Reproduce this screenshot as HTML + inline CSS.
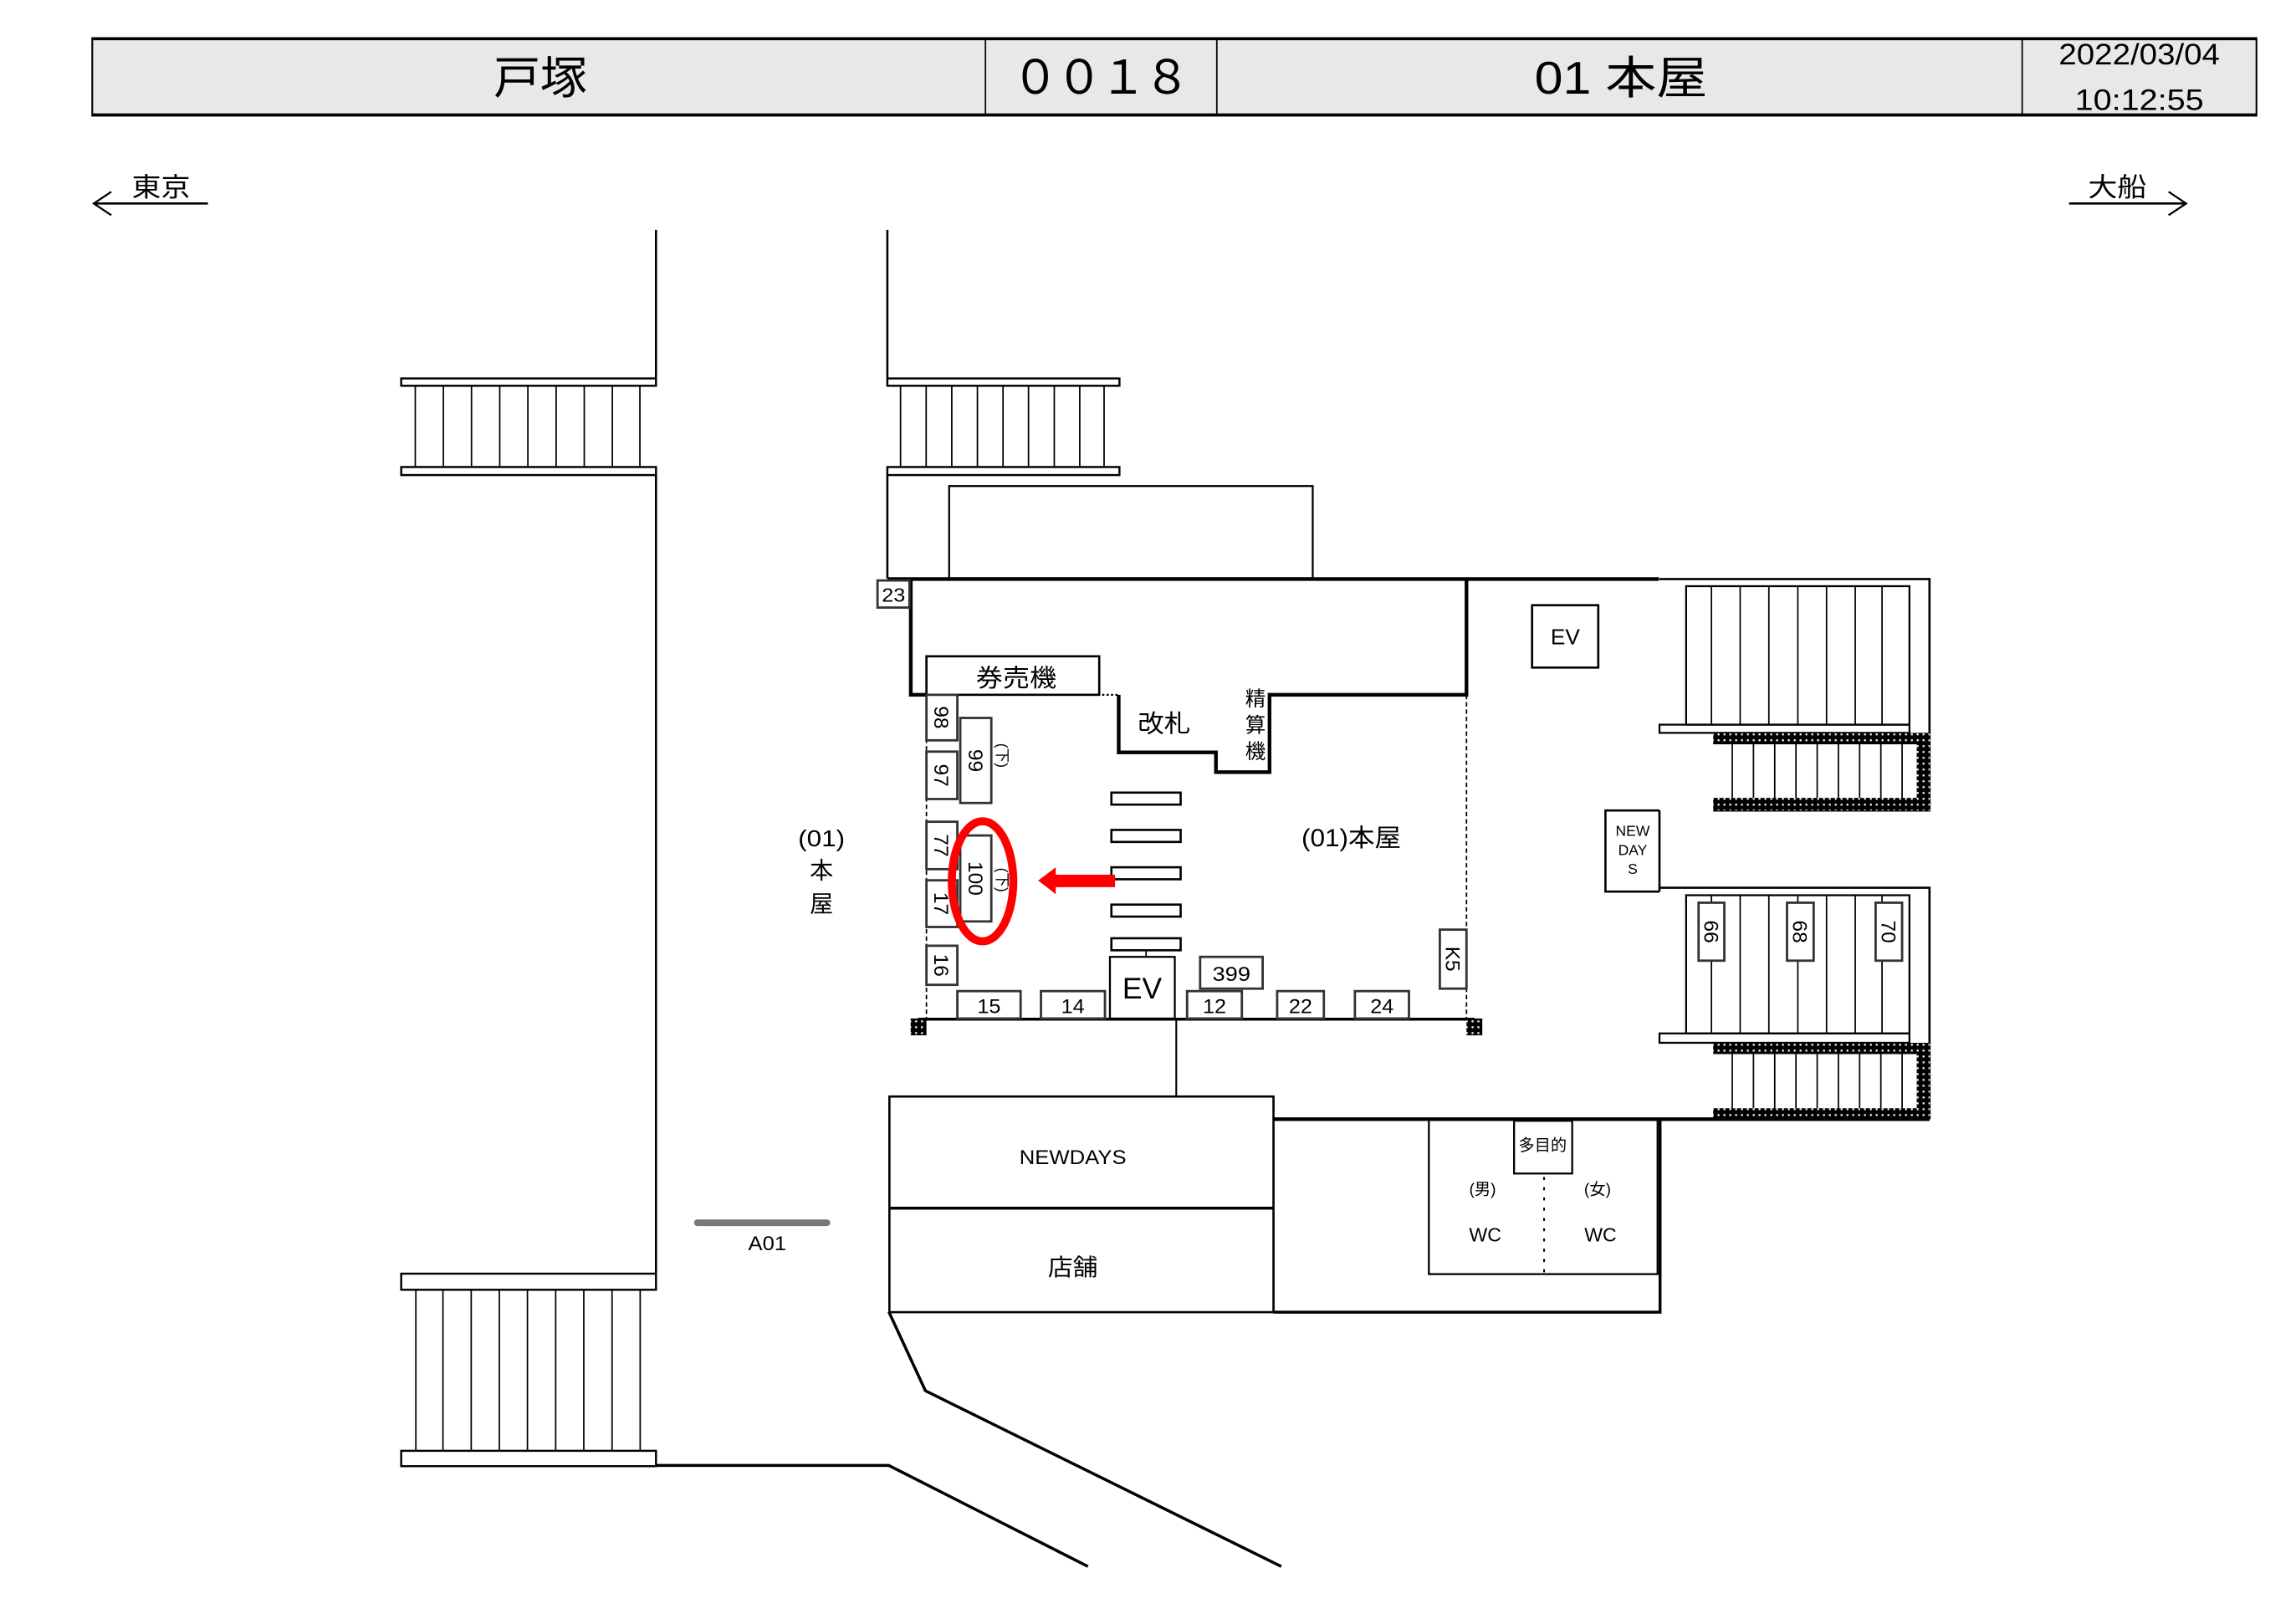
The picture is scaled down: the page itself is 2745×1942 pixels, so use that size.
<!DOCTYPE html>
<html><head><meta charset="utf-8"><style>
html,body{margin:0;padding:0;background:#fff;}
svg{display:block;}
text{font-family:"Liberation Sans","Noto Sans CJK JP",sans-serif;fill:#000;}
</style></head><body>
<svg width="2745" height="1942" viewBox="0 0 1568 1109.3" xmlns="http://www.w3.org/2000/svg">
<defs>
<pattern id="h" width="4" height="4" patternUnits="userSpaceOnUse"><rect width="4" height="4" fill="#000"/><rect x="1" y="1" width="1.3" height="1.3" fill="#fff"/></pattern>
</defs>
<!-- header -->
<rect x="63" y="26" width="1478" height="53" fill="#e8e8e8" stroke="#000" stroke-width="1.2"/>
<line x1="63" y1="26.5" x2="1541" y2="26.5" stroke="#000" stroke-width="2"/>
<line x1="63" y1="78.5" x2="1541" y2="78.5" stroke="#000" stroke-width="2"/>
<line x1="673" y1="26" x2="673" y2="79" stroke="#000" stroke-width="1"/>
<line x1="831" y1="26" x2="831" y2="79" stroke="#000" stroke-width="1"/>
<line x1="1381" y1="26" x2="1381" y2="79" stroke="#000" stroke-width="1"/>
<text x="369" y="64" font-size="31" text-anchor="middle" textLength="64" lengthAdjust="spacingAndGlyphs">戸塚</text>
<text x="752" y="64" font-size="32" text-anchor="middle" textLength="122" lengthAdjust="spacing">００１８</text>
<text x="1107" y="64" font-size="31" text-anchor="middle" textLength="118" lengthAdjust="spacingAndGlyphs">01 本屋</text>
<text x="1461" y="44" font-size="20" text-anchor="middle" textLength="110" lengthAdjust="spacingAndGlyphs">2022/03/04</text>
<text x="1461" y="75" font-size="20" text-anchor="middle" textLength="88" lengthAdjust="spacingAndGlyphs">10:12:55</text>
<!-- direction arrows -->
<text x="110" y="134" font-size="18" text-anchor="middle" textLength="40" lengthAdjust="spacingAndGlyphs">東京</text>
<line x1="64" y1="139" x2="142" y2="139" stroke="#000" stroke-width="1.5"/>
<polyline points="76,131 64,139 76,147" fill="none" stroke="#000" stroke-width="1.3"/>
<text x="1446" y="134" font-size="18" text-anchor="middle" textLength="40" lengthAdjust="spacingAndGlyphs">大船</text>
<line x1="1413" y1="139" x2="1493" y2="139" stroke="#000" stroke-width="1.5"/>
<polyline points="1481,131 1493,139 1481,147" fill="none" stroke="#000" stroke-width="1.3"/>

<g stroke="#000" fill="none" stroke-width="1.5">
<!-- left wall -->
<line x1="448" y1="157" x2="448" y2="258"/>
<line x1="448" y1="324" x2="448" y2="870"/>
<!-- left upper stair -->
<rect x="274" y="258.5" width="174" height="5" stroke-width="1.4"/>
<rect x="274" y="319" width="174" height="5.5" stroke-width="1.4"/>
<g stroke-width="1"><line x1="283.6" y1="263.5" x2="283.6" y2="319"/><line x1="302.8" y1="263.5" x2="302.8" y2="319"/><line x1="322" y1="263.5" x2="322" y2="319"/><line x1="341.3" y1="263.5" x2="341.3" y2="319"/><line x1="360.5" y1="263.5" x2="360.5" y2="319"/><line x1="379.8" y1="263.5" x2="379.8" y2="319"/><line x1="399" y1="263.5" x2="399" y2="319"/><line x1="418.2" y1="263.5" x2="418.2" y2="319"/><line x1="437" y1="263.5" x2="437" y2="319"/></g>
<!-- left lower stair -->
<rect x="274" y="870" width="174" height="11" stroke-width="1.4"/>
<rect x="274" y="991" width="174" height="10.5" stroke-width="1.4"/>
<g stroke-width="1"><line x1="284" y1="881" x2="284" y2="991"/><line x1="302.5" y1="881" x2="302.5" y2="991"/><line x1="321.8" y1="881" x2="321.8" y2="991"/><line x1="341" y1="881" x2="341" y2="991"/><line x1="360.2" y1="881" x2="360.2" y2="991"/><line x1="379.5" y1="881" x2="379.5" y2="991"/><line x1="398.7" y1="881" x2="398.7" y2="991"/><line x1="418" y1="881" x2="418" y2="991"/><line x1="437.2" y1="881" x2="437.2" y2="991"/></g>
<polyline points="448,1001 607,1001 743,1070" stroke-width="2"/>
<polyline points="607,896 632,950 875,1070" stroke-width="2"/>
<!-- right wall upper -->
<line x1="606" y1="157" x2="606" y2="258"/>
<line x1="606" y1="324" x2="606" y2="395"/>
<rect x="606" y="258.5" width="158.5" height="5" stroke-width="1.4"/>
<rect x="606" y="319" width="158.5" height="5.5" stroke-width="1.4"/>
<g stroke-width="1"><line x1="615" y1="263.5" x2="615" y2="319"/><line x1="632.5" y1="263.5" x2="632.5" y2="319"/><line x1="650" y1="263.5" x2="650" y2="319"/><line x1="667.5" y1="263.5" x2="667.5" y2="319"/><line x1="685" y1="263.5" x2="685" y2="319"/><line x1="702.4" y1="263.5" x2="702.4" y2="319"/><line x1="720" y1="263.5" x2="720" y2="319"/><line x1="737.4" y1="263.5" x2="737.4" y2="319"/><line x1="754" y1="263.5" x2="754" y2="319"/></g>
<rect x="648.2" y="332" width="248.3" height="63" stroke-width="1.3"/>
<!-- main top line -->
<line x1="606" y1="395.5" x2="1133" y2="395.5" stroke-width="2.5"/>
<!-- concourse walls -->
<polyline points="622,395 622,474.6 632.7,474.6" stroke-width="2.5"/>
<rect x="632.7" y="448.3" width="118" height="26.3" stroke-width="1.5"/>
<polyline points="764,474.6 764,513.9 830.4,513.9 830.4,527.4 867,527.4 867,474.6 1001.5,474.6 1001.5,395" stroke-width="2.5"/>
<line x1="632.7" y1="474.6" x2="764" y2="474.6" stroke-dasharray="1.5 1.5" stroke-width="1.3"/>
<line x1="632.7" y1="474.6" x2="632.7" y2="695.7" stroke-dasharray="3 2" stroke-width="1"/>
<line x1="1001.5" y1="474.6" x2="1001.5" y2="695.7" stroke-dasharray="3 2" stroke-width="1"/>
<line x1="627" y1="696.2" x2="1007" y2="696.2" stroke-width="2"/>
<line x1="803.3" y1="696" x2="803.3" y2="749" stroke-width="1.2"/>
<!-- stripes -->
<rect x="759" y="541.4" width="47.3" height="8.2" stroke-width="1.5"/>
<rect x="759" y="566.9" width="47.3" height="8.2" stroke-width="1.5"/>
<rect x="759" y="592.4" width="47.3" height="8.2" stroke-width="1.5"/>
<rect x="759" y="617.9" width="47.3" height="8.2" stroke-width="1.5"/>
<rect x="759" y="640.9" width="47.3" height="8.2" stroke-width="1.5"/>
<line x1="782.7" y1="649" x2="782.7" y2="653.6" stroke-width="1"/>
<rect x="758" y="653.6" width="44.3" height="42.1" stroke-width="1.3"/>
</g>
<rect x="621.9" y="695.7" width="10.8" height="11.5" fill="url(#h)"/>
<rect x="1001.5" y="695.7" width="10.8" height="11.5" fill="url(#h)"/>
<!-- small boxes -->
<g stroke="#333" fill="#fff" stroke-width="1.6">
<rect x="599.3" y="396.5" width="21.8" height="18.5"/>
<rect x="632.7" y="474.6" width="21.1" height="31.1"/>
<rect x="632.7" y="513.4" width="21.1" height="32.4"/>
<rect x="655.8" y="490.4" width="21.2" height="58.1"/>
<rect x="632.7" y="561.3" width="21.1" height="32.4"/>
<rect x="632.7" y="601.3" width="21.1" height="31.9"/>
<rect x="655.8" y="570.7" width="21.2" height="58.7"/>
<rect x="632.7" y="646" width="21.1" height="26.7"/>
<rect x="819.6" y="653.6" width="42.7" height="21.7"/>
<rect x="653.8" y="677" width="43.2" height="18.7"/>
<rect x="710.9" y="677" width="43.7" height="18.7"/>
<rect x="810.7" y="677" width="37.4" height="18.7"/>
<rect x="872.2" y="677" width="31.9" height="18.7"/>
<rect x="925.3" y="677" width="36.9" height="18.7"/>
<rect x="983.3" y="635" width="18.2" height="40.3"/>
</g>
<g font-size="14" text-anchor="middle">
<text x="610.2" y="411" font-size="13" textLength="16" lengthAdjust="spacingAndGlyphs">23</text>
<text x="0" y="5" transform="translate(643.2,490) rotate(90)">98</text>
<text x="0" y="5" transform="translate(643.2,529.6) rotate(90)">97</text>
<text x="0" y="5" transform="translate(666.4,519.5) rotate(90)">99</text>
<text x="0" y="4" font-size="10" transform="translate(685,516) rotate(90)">(下)</text>
<text x="0" y="5" transform="translate(643.2,577.5) rotate(90)">77</text>
<text x="0" y="5" transform="translate(643.2,617.2) rotate(90)">17</text>
<text x="0" y="5" transform="translate(666.4,600) rotate(90)">100</text>
<text x="0" y="4" font-size="10" transform="translate(685,601) rotate(90)">(下)</text>
<text x="0" y="5" transform="translate(643.2,659.3) rotate(90)">16</text>
<text x="0" y="5" transform="translate(992.4,655) rotate(90)">K5</text>
<text x="841" y="670" textLength="26" lengthAdjust="spacingAndGlyphs">399</text>
<text x="675.4" y="692" textLength="16" lengthAdjust="spacingAndGlyphs">15</text>
<text x="732.7" y="692" textLength="16" lengthAdjust="spacingAndGlyphs">14</text>
<text x="829.4" y="692" textLength="16" lengthAdjust="spacingAndGlyphs">12</text>
<text x="888.2" y="692" textLength="16" lengthAdjust="spacingAndGlyphs">22</text>
<text x="943.8" y="692" textLength="16" lengthAdjust="spacingAndGlyphs">24</text>
<text x="780" y="682" font-size="20" textLength="27" lengthAdjust="spacingAndGlyphs">EV</text>
<text x="694" y="469" font-size="17" textLength="55" lengthAdjust="spacingAndGlyphs">券売機</text>
<text x="795" y="500" font-size="17" textLength="36" lengthAdjust="spacingAndGlyphs">改札</text>
<text x="857.4" y="482" font-size="14">精</text>
<text x="857.4" y="500" font-size="14">算</text>
<text x="857.4" y="518" font-size="14">機</text>
<text x="922.8" y="578" font-size="17" textLength="68" lengthAdjust="spacingAndGlyphs">(01)本屋</text>
<text x="561" y="578" font-size="16" textLength="32" lengthAdjust="spacingAndGlyphs">(01)</text>
<text x="561" y="600" font-size="16">本</text>
<text x="561" y="623" font-size="16">屋</text>
</g>
<!-- red highlight -->
<ellipse cx="671" cy="602" rx="21" ry="41" fill="none" stroke="#f00" stroke-width="5.5"/>
<polygon points="709,601.5 721,592.4 721,597.5 761.5,597.5 761.5,606 721,606 721,610.8" fill="#f00"/>
<!-- right area -->
<g stroke="#000" fill="none" stroke-width="1.5">
<rect x="1046.3" y="413.4" width="45.2" height="42.6"/>
<polyline points="1133.3,395.5 1317.7,395.5 1317.7,553.6 1170,553.6"/>
<polyline points="1133.3,553.6 1096.4,553.6 1096.4,609 1133.3,609"/>
<line x1="1133.3" y1="553.6" x2="1133.3" y2="609"/>
<polyline points="1133.3,606.4 1317.7,606.4 1317.7,764.5"/>
<rect x="1151.5" y="400.4" width="152.5" height="94.6" stroke-width="1.3"/>
<rect x="1133.3" y="495" width="170.7" height="5.6" stroke-width="1.3"/>
<rect x="1151.5" y="611.5" width="152.5" height="94.4" stroke-width="1.3"/>
<rect x="1133.3" y="705.9" width="170.7" height="6.4" stroke-width="1.3"/>
<g stroke-width="1">
<line x1="1168.8" y1="400.4" x2="1168.8" y2="495"/><line x1="1188.4" y1="400.4" x2="1188.4" y2="495"/><line x1="1208" y1="400.4" x2="1208" y2="495"/><line x1="1227.8" y1="400.4" x2="1227.8" y2="495"/><line x1="1247.4" y1="400.4" x2="1247.4" y2="495"/><line x1="1267" y1="400.4" x2="1267" y2="495"/><line x1="1285.3" y1="400.4" x2="1285.3" y2="495"/>
<line x1="1168.8" y1="611.5" x2="1168.8" y2="706"/><line x1="1188.4" y1="611.5" x2="1188.4" y2="706"/><line x1="1208" y1="611.5" x2="1208" y2="706"/><line x1="1227.8" y1="611.5" x2="1227.8" y2="706"/><line x1="1247.4" y1="611.5" x2="1247.4" y2="706"/><line x1="1267" y1="611.5" x2="1267" y2="706"/><line x1="1285.3" y1="611.5" x2="1285.3" y2="706"/>
<line x1="1183" y1="508" x2="1183" y2="545"/><line x1="1197.5" y1="508" x2="1197.5" y2="545"/><line x1="1212" y1="508" x2="1212" y2="545"/><line x1="1226.5" y1="508" x2="1226.5" y2="545"/><line x1="1241" y1="508" x2="1241" y2="545"/><line x1="1255.5" y1="508" x2="1255.5" y2="545"/><line x1="1270" y1="508" x2="1270" y2="545"/><line x1="1284.5" y1="508" x2="1284.5" y2="545"/><line x1="1299" y1="508" x2="1299" y2="545"/>
<line x1="1183" y1="720" x2="1183" y2="757"/><line x1="1197.5" y1="720" x2="1197.5" y2="757"/><line x1="1212" y1="720" x2="1212" y2="757"/><line x1="1226.5" y1="720" x2="1226.5" y2="757"/><line x1="1241" y1="720" x2="1241" y2="757"/><line x1="1255.5" y1="720" x2="1255.5" y2="757"/><line x1="1270" y1="720" x2="1270" y2="757"/><line x1="1284.5" y1="720" x2="1284.5" y2="757"/><line x1="1299" y1="720" x2="1299" y2="757"/>
</g>
</g>
<g fill="url(#h)">
<rect x="1170" y="500.6" width="148" height="7.8"/>
<rect x="1170" y="545" width="148" height="8.6"/>
<rect x="1309" y="500.6" width="9" height="53"/>
<rect x="1170" y="712.3" width="148" height="7.7"/>
<rect x="1170" y="757" width="148" height="7.5"/>
<rect x="1309" y="712.3" width="9" height="52"/>
</g>
<g stroke="#333" fill="#fff" stroke-width="1.6">
<rect x="1160" y="616.6" width="17.6" height="39.6"/>
<rect x="1220.4" y="616.6" width="18.2" height="39.6"/>
<rect x="1280.9" y="616.6" width="18.1" height="39.6"/>
</g>
<g text-anchor="middle">
<text x="0" y="5" font-size="14" transform="translate(1168.8,636.4) rotate(90)">66</text>
<text x="0" y="5" font-size="14" transform="translate(1229.5,636.4) rotate(90)">68</text>
<text x="0" y="5" font-size="14" transform="translate(1290,636.4) rotate(90)">70</text>
<text x="1069" y="440" font-size="15">EV</text>
<text x="1115" y="571" font-size="10">NEW</text>
<text x="1115" y="584" font-size="10">DAY</text>
<text x="1115" y="597" font-size="10">S</text>
</g>
<!-- bottom shops -->
<g stroke="#000" fill="none" stroke-width="1.5">
<rect x="607.4" y="749" width="262.3" height="147.3"/>
<line x1="607.4" y1="825.3" x2="869.7" y2="825.3" stroke-width="2"/>
<line x1="869.7" y1="764.5" x2="1317.7" y2="764.5" stroke-width="2.5"/>
<polyline points="1133.7,764.5 1133.7,896.3 869.7,896.3" stroke-width="2"/>
<rect x="975.8" y="764.5" width="156.2" height="105.8" stroke-width="1.3"/>
<rect x="1034" y="765.6" width="39.7" height="36" stroke-width="1.3"/>
<line x1="1054.5" y1="804" x2="1054.5" y2="870" stroke-dasharray="2 5" stroke-width="1.2"/>
</g>
<line x1="476.2" y1="835.2" x2="564.8" y2="835.2" stroke="#777" stroke-width="4.5" stroke-linecap="round"/>
<g text-anchor="middle">
<text x="524" y="854" font-size="14" textLength="26" lengthAdjust="spacingAndGlyphs">A01</text>
<text x="732.7" y="795" font-size="14" textLength="73" lengthAdjust="spacingAndGlyphs">NEWDAYS</text>
<text x="732.7" y="871" font-size="16" textLength="34" lengthAdjust="spacingAndGlyphs">店舗</text>
<text x="1053.5" y="786" font-size="11">多目的</text>
<text x="1012.5" y="816" font-size="11">(男)</text>
<text x="1091" y="816" font-size="11">(女)</text>
<text x="1014.3" y="848" font-size="13" textLength="22" lengthAdjust="spacingAndGlyphs">WC</text>
<text x="1093" y="848" font-size="13" textLength="22" lengthAdjust="spacingAndGlyphs">WC</text>
</g>
</svg>
</body></html>
